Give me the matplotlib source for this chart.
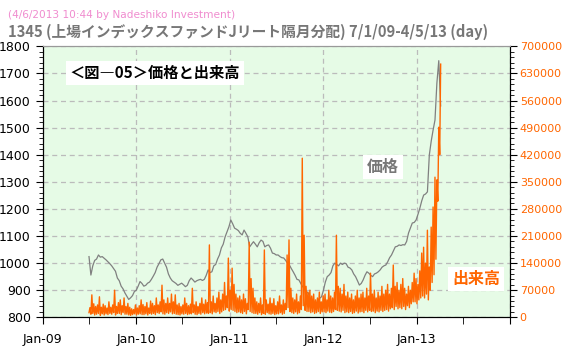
import numpy as np
import pandas as pd
import matplotlib
matplotlib.use('Agg')
import matplotlib.pyplot as plt
import matplotlib.dates as mdates
from matplotlib.ticker import MultipleLocator, FuncFormatter

#%% data, weekly closes of 1345, 7/1/09 - 4/5/13
price = [
    1024, 956, 990, 1010,            # Jul 09
    1015, 1030, 1022, 1024,          # Aug
    1018, 1012, 1005, 998,           # Sep
    990, 980, 970, 945,              # Oct
    935, 915, 905, 890,              # Nov
    878, 866, 872, 880, 895,         # Dec
    900, 915, 932, 925,              # Jan 10
    915, 918, 926, 930,              # Feb
    940, 952, 965, 985,              # Mar
    998, 1012, 1015, 1000,           # Apr
    985, 960, 945, 935,              # May
    930, 925, 918, 922, 926,         # Jun
    920, 913, 918, 935,              # Jul
    945, 938, 930, 935,              # Aug
    938, 940, 936, 940, 955,         # Sep
    975, 965, 968, 990,              # Oct
    995, 1015, 1030, 1056,           # Nov
    1070, 1097, 1115, 1134,          # Dec
    1159, 1145, 1129, 1125,          # Jan 11
    1120, 1110, 1104, 1122, 1110,    # Feb
    1097, 1060, 1070, 1079,          # Mar
    1070, 1060, 1075, 1085,          # Apr
    1080, 1060, 1065, 1067,          # May
    1055, 1037, 1035, 1030,          # Jun
    1030, 1024, 1020, 1019,          # Jul
    1010, 1000, 993, 980,            # Aug
    968, 955, 940, 938,              # Sep
    925, 913, 905, 895,              # Oct
    889, 870, 850, 840,              # Nov
    848, 860, 870, 876,              # Dec
    900, 930, 950, 956,              # Jan 12
    965, 990, 1000, 995,             # Feb
    990, 1000, 995, 1000,            # Mar
    998, 985, 982, 975,              # Apr
    960, 950, 935, 919,              # May
    925, 938, 955, 968,              # Jun
    963, 955, 950, 960,              # Jul
    963, 968, 975, 985,              # Aug
    990, 993, 1005, 1020,            # Sep
    1030, 1045, 1060, 1062,          # Oct
    1067, 1065, 1068, 1067,          # Nov
    1080, 1111, 1130, 1148,          # Dec
    1150, 1159, 1180, 1203,          # Jan 13
    1230, 1251, 1255, 1263,          # Feb
    1399, 1450, 1491, 1528,          # Mar
    1664, 1747, 1580,                # Apr
]

# volume, thousand shares: weekly high / low
vol_hi = [
    25, 58, 35, 28,  32, 53, 26, 34,  30, 24, 40, 26,  32, 70, 28, 38,
    45, 30, 50, 28,  36, 26, 22, 20, 32,
    24, 30, 45, 33,  28, 38, 24, 42,  36, 30, 50, 32,  40, 83, 45, 36,
    50, 36, 60, 40,  58, 32, 36, 28, 32,  50, 36, 30, 34,  75, 32, 40, 28,
    36, 50, 34, 45, 38,  187, 40, 55, 36,  50, 65, 45, 60,  90, 55, 153, 70,
    127, 85, 60, 50,  55, 45, 60, 48, 36,  194, 100, 75, 50,  40, 36, 50, 32,
    174, 45, 34, 50,  36, 48, 30, 40,  55, 32, 45, 36,  161, 200, 75, 50,
    45, 60, 40, 55,  411, 212, 80, 65,  70, 55, 60, 45,  50, 65, 40, 55,
    60, 45, 70, 55,  50, 65, 212, 80,  75, 60, 85, 55,  65, 50, 60, 45,
    55, 70, 50, 60,  65, 50, 75, 55,  114, 60, 70, 50,  65, 55, 80, 60,
    70, 85, 60, 75,  135, 80, 90, 70,  85, 100, 75, 60,  80, 70, 90, 114,
    100, 85, 120, 166,  181, 140, 225, 130,  233, 285, 362, 355,  491, 654,
]
vol_lo = [
    12, 8, 10, 6,  8, 10, 5, 9,  6, 9, 7, 10,  8, 12, 6, 10,
    10, 7, 12, 8,  8, 6, 5, 7, 9,
    6, 8, 9, 7,  7, 9, 6, 10,  8, 10, 7, 12,  10, 14, 9, 8,
    12, 10, 14, 9,  10, 8, 7, 6, 9,  8, 10, 7, 9,  9, 12, 8, 7,
    10, 8, 12, 9, 11,  10, 12, 9, 14,  12, 15, 10, 14,  18, 20, 25, 16,
    20, 18, 15, 12,  14, 12, 10, 15, 9,  20, 15, 12, 10,  10, 8, 12, 7,
    10, 8, 12, 9,  8, 10, 7, 9,  9, 12, 8, 10,  20, 25, 15, 12,
    10, 14, 9, 12,  20, 30, 18, 15,  15, 12, 14, 10,  12, 15, 10, 14,
    14, 12, 16, 13,  12, 15, 20, 18,  16, 14, 18, 12,  14, 12, 15, 10,
    12, 16, 11, 14,  15, 12, 18, 14,  18, 15, 16, 12,  16, 14, 18, 15,
    18, 20, 16, 22,  25, 20, 28, 22,  25, 22, 28, 20,  30, 25, 35, 40,
    40, 35, 45, 50,  55, 50, 60, 45,  70, 90, 110, 150,  300, 420,
]

t_price = pd.date_range('2009-07-01', '2013-04-05', periods=len(price))
volume = np.ravel(np.column_stack([vol_lo, vol_hi])) * 1000
t_vol = pd.date_range('2009-07-01', '2013-04-05', periods=len(volume))

#%%
cjk = ['Noto Sans CJK JP', 'DejaVu Sans']
grey = '#808080'
orange = '#ff6600'

fig = plt.figure(figsize=(5.66, 3.49), dpi=100)
ax = fig.add_axes([0.0754, 0.0908, 0.8257, 0.7765])
ax.set_facecolor('#e6fbe6')
ax.plot(t_price, price, color=grey, lw=0.9)
ax.set_ylim(800, 1800)
ax.set_xlim(pd.Timestamp('2009-01-01'), pd.Timestamp('2014-01-01'))
ax.yaxis.set_major_locator(MultipleLocator(100))
ax.yaxis.set_minor_locator(MultipleLocator(20))
ax.xaxis.set_major_locator(mdates.YearLocator())
ax.xaxis.set_minor_locator(mdates.MonthLocator(bymonth=[7]))
ax.xaxis.set_major_formatter(FuncFormatter(
    lambda v, p: '' if mdates.num2date(v).year > 2013 else mdates.num2date(v).strftime('Jan-%y')))
ax.grid(True, which='major', ls=(0, (4, 3)), color='#bbbbbb', lw=0.9)
ax.set_axisbelow(True)
ax.tick_params(axis='y', which='major', length=5, labelsize=9, colors='black')
ax.tick_params(axis='y', which='minor', length=3)
ax.tick_params(axis='x', which='both', length=5, labelsize=9, pad=6)

ax2 = ax.twinx()
ax2.plot(t_vol, volume, color=orange, lw=1.0)
ax2.set_ylim(0, 700000)
ax2.yaxis.set_major_locator(MultipleLocator(70000))
ax2.yaxis.set_minor_locator(MultipleLocator(14000))
ax2.tick_params(axis='y', which='major', length=5, labelsize=8, labelcolor=orange, pad=2)
ax2.tick_params(axis='y', which='minor', length=3)

for a in (ax, ax2):
    a.spines['top'].set_color('#999999')
    a.spines['right'].set_color('black')

# labels
ax.text(0.058, 0.901, '＜図―05＞価格と出来高', transform=ax.transAxes, family=cjk,
        fontsize=11, fontweight='bold', va='center', ha='left',
        bbox=dict(fc='white', ec='none', pad=3))
ax.text(0.728, 0.555, '価格', transform=ax.transAxes, family=cjk, fontsize=11.5,
        fontweight='bold', color='#777777', ha='center', va='center',
        bbox=dict(fc='white', ec='none', pad=3))
ax.text(0.927, 0.141, '出来高', transform=ax.transAxes, family=cjk, fontsize=11.5,
        fontweight='bold', color=orange, ha='center', va='center',
        bbox=dict(fc='white', ec='none', pad=3))

fig.text(8/566, 1 - 15/349, '(4/6/2013 10:44 by Nadeshiko Investment)',
         fontsize=7.6, color='#f08ccf', va='center', ha='left')
fig.text(8/566, 1 - 32/349, '1345 (上場インデックスファンドJリート隔月分配) 7/1/09-4/5/13 (day)',
         family=cjk, fontsize=10.6, fontweight='bold', color='#777777', va='center', ha='left')

fig.savefig('out.png', dpi=100)
